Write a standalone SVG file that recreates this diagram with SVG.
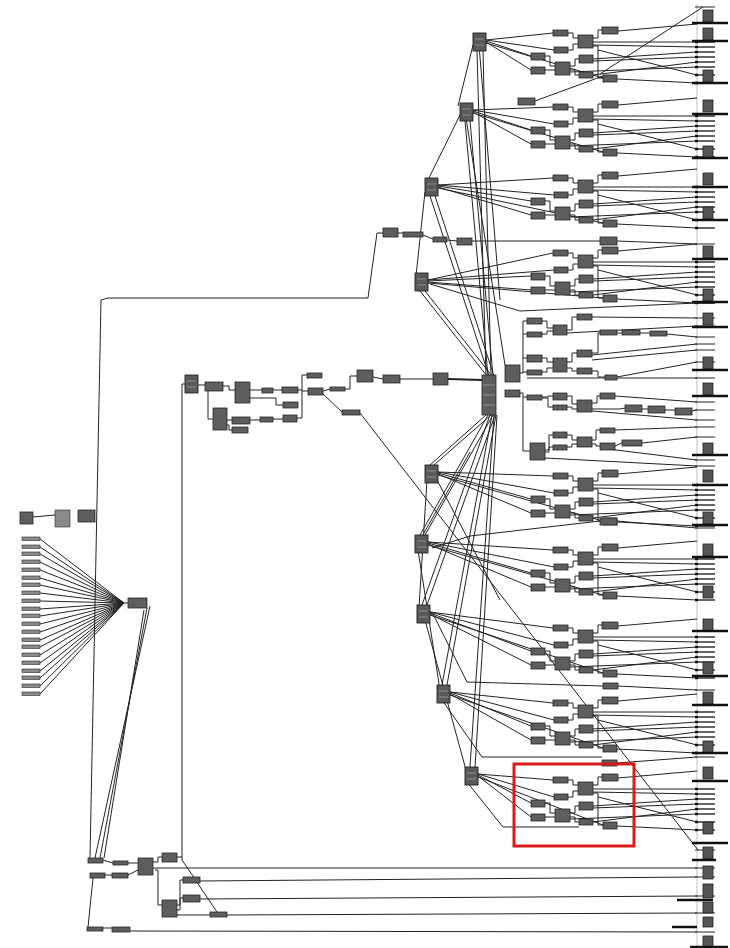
<svg xmlns="http://www.w3.org/2000/svg" width="730" height="948" viewBox="0 0 730 948">
<style>
.b{fill:#5e5e5e;stroke:#262626;stroke-width:0.8}
.r{fill:#5a5a5a;stroke:#222;stroke-width:0.9}
.in{fill:#8a8a8a;stroke:#2a2a2a;stroke-width:0.6}
.w path,.w line,path.w{fill:none;stroke:#222;stroke-width:1}
.dot{fill:none;stroke:#111;stroke-width:2.4}
.tk{fill:none;stroke:#333;stroke-width:1.4}
.st{fill:#555;stroke:#222;stroke-width:0.8}
.bar{fill:none;stroke:#111;stroke-width:2.4}
.lbl{fill:none;stroke:#9a9a9a;stroke-width:0.8}
</style>
<defs>
<g id="modN">
<rect class="b" x="553" y="0" width="15" height="6"/>
<rect class="b" x="554" y="17" width="14" height="6"/>
<rect class="b" x="531" y="23" width="14" height="7"/>
<rect class="b" x="531" y="37" width="14" height="7"/>
<rect class="b" x="578" y="5" width="15" height="13"/>
<rect class="b" x="555" y="32" width="15" height="13"/>
<rect class="b" x="579" y="25" width="14" height="8"/>
<rect class="b" x="579" y="42" width="14" height="6"/>
<rect class="b" x="602" y="-3" width="16" height="7"/>
<rect class="b" x="603" y="45" width="14" height="7"/>
</g>
<g id="modW">
<path class="w" d="M568,3H573V8H578M568,20H573V14H578M545,26H550V36H555M545,40H555M570,36H575V29H579M570,40H575V45H579M593,8H598V0H602M593,16H598V48H603"/>
<path class="w" d="M618,1L697,-6M593,12L697,12M593,15L697,17M593,29L697,22M593,31L697,27M593,45L697,32M570,42L697,37M617,49L697,53M598,20L697,45"/>
<path class="dot" d="M695,12h3M695,17h3M695,22h3M695,27h3M695,32h3M695,37h3M695,45h3M695,53h3"/>
<path class="tk" d="M698,12h17M698,17h17M698,22h17M698,27h17M698,32h17M698,37h17M698,45h17M698,53h17"/>
</g>
<g id="rootN">
<rect class="r" x="0" y="0" width="13" height="18"/>
<path class="lbl" d="M2,6H11M2,12H11"/>
</g>
</defs>
<rect x="0" y="0" width="730" height="948" fill="#ffffff"/>

<g id="connectors" class="w">
<path d="M697,4V946" style="stroke:#999;stroke-width:0.6"/>
<use href="#modW" y="30"/>
<use href="#modW" y="104"/>
<use href="#modW" y="175"/>
<use href="#modW" y="250"/>
<use href="#modW" y="473"/>
<use href="#modW" y="547"/>
<use href="#modW" y="625"/>
<use href="#modW" y="700"/>
<use href="#modW" y="777"/>
<!-- root fan lines -->
<path d="M486,40L553,33M486,40L554,50M486,41L531,56M486,42L531,70M486,43L603,78"/>
<path d="M473,110L553,107M473,110L554,124M473,111L531,130M473,112L531,144M473,113L603,152"/>
<path d="M438,185L553,178M438,185L554,195M438,186L531,201M438,187L531,215M438,188L603,223"/>
<path d="M428,280L553,253M428,280L554,270M428,281L531,276M428,282L531,290M428,283L603,298"/>
<path d="M438,472L553,476M438,472L554,493M438,473L531,499M438,474L531,513M438,475L603,521"/>
<path d="M428,542L553,550M428,542L554,567M428,543L531,573M428,544L531,587M428,545L603,595"/>
<path d="M430,612L553,628M430,612L554,645M430,613L531,651M430,614L531,665M430,615L603,673"/>
<path d="M450,692L553,703M450,692L554,720M450,693L531,726M450,694L531,740M450,695L603,748"/>
<path d="M478,774L553,780M478,774L554,797M478,775L531,803M478,776L531,817M478,777L603,825"/>
<!-- roots to hub -->
<path d="M477,51L486,376M483,51L491,376M465,121L488,376M470,121L493,376M430,196L489,376M435,196L494,376M420,291L487,376M425,291L492,376M479,45L500,300M466,118L505,365"/>
<path d="M486,415L430,465M491,415L434,465M488,415L420,535M493,415L425,535M490,415L422,605M495,415L427,605M492,415L442,685M496,415L447,685M494,415L470,767M497,415L475,767"/>
<!-- cross links between roots -->
<path d="M473,45L458,106M460,115L428,180M425,192L416,276M427,480L419,607M418,550L440,690M425,620L466,770M437,480L500,600M420,540L470,452M442,700L482,757H602M432,612L467,682L603,686M432,548L470,536L600,521M467,782L503,827H579"/>
<path d="M535,101L603,76M600,74L703,7M430,284L520,311L697,303M617,521L697,528M618,686L697,690M617,763L697,757M617,241L697,244"/>
<!-- hub sub-trees -->
<path d="M520,373H523M523,321V373M523,321H527M523,334H527M523,358H527M523,372H527M542,321H547V328H553M542,334H547V331H553M542,358H547V362H553M542,372H547V368H553M567,330H572V317H577M567,362H572V353H577M567,368H572V371H577M592,353H598V333H600M617,333H622M640,333H650M592,371H598V377H605M527,378H610"/>
<path d="M520,393H523V397H527M523,397V451H530M542,397H548V396H553M542,398H548V407H553M567,396H572V404H577M567,407H572V409H577M592,403H597V396H600M592,409H620L625,408M642,409H648M665,410H675M545,450H549V435H553M545,452H549V447H553M567,435H572V440H577M567,447H572V444H577M592,440H596V430H600M592,444H596V446H600M615,446L622,443M545,458L697,466"/>
<path d="M592,317L697,318M567,333L697,326M667,334L697,337M592,355L697,344M592,360L697,350M617,377L697,362M610,378L697,378M615,396L697,402M692,411L697,410M592,411L697,420M615,430L697,427M642,443L697,437M600,448L697,460"/>
<path class="dot" d="M695,318h3M695,326h3M695,337h3M695,344h3M695,350h3M695,362h3M695,378h3M695,402h3M695,410h3M695,420h3M695,427h3M695,437h3M695,460h3M695,466h3M695,528h3M695,690h3M695,757h3M695,244h3M695,303h3M695,868h3M695,877h3M695,896h3M695,913h3M695,932h3M695,850h3M695,7h3"/>
<path class="tk" d="M698,318h17M698,326h17M698,337h17M698,344h17M698,350h17M698,362h17M698,378h17M698,402h17M698,410h17M698,420h17M698,427h17M698,437h17M698,460h17M698,466h17M698,528h17M698,690h17M698,757h17M698,244h17M698,303h17M698,850h17M698,7h17"/>
<!-- chain from left -->
<path d="M198,385H205M223,386H229V390H235M250,390H262M273,390H282M250,398H276V405H283M205,386H208V419H213M227,420H232M227,425H229V430H232M250,420H260M273,419H283M297,418H302V390M298,390H302V375H307M302,391H308M323,391L330,389M345,389H350V376H357M373,377L383,379M400,379L433,379M323,394L342,412"/>
<path d="M448,379L482,380" style="stroke-width:2"/>
<path d="M360,413L698,850"/>
<path d="M185,384H182V860L217,912"/>
<!-- top route -->
<path d="M90,858L101,300L108,298H368L377,233H383M398,233H403M423,235L433,239M447,240L457,241M472,241L600,241"/>
<!-- left fan -->
<path d="M40,539L124,603M40,547L124,603M40,554L124,603M40,562L124,603M40,570L124,603M40,578L124,603M40,585L124,603M40,593L124,603M40,601L124,603M40,609L124,603M40,616L124,603M40,624L124,603M40,632L124,603M40,640L124,603M40,647L124,603M40,655L124,603M40,663L124,603M40,671L124,603M40,678L124,603M40,686L124,603M40,694L124,603M124,603H128"/>
<path d="M150,606L95,858M147,608L100,858M144,610L104,858M33,517L55,515"/>
<!-- bottom cluster -->
<path d="M103,860L113,863M105,875H112M128,863H138M128,875L138,870M153,862H158V857H162M155,870H158V905H162M177,905H180V880H183M177,910H180V898H183M177,915H210M153,868H697M200,881L697,877M200,899L697,896M227,915L697,913M103,928H112M130,931L697,932M93,878L88,927M177,857H182"/>
<path class="tk" d="M698,868h17M698,877h17M698,896h17M698,913h17M698,932h17"/>
</g>

<g id="right-column">
<g class="st">
<rect x="703" y="10" width="10" height="12"/><rect x="703" y="28" width="10" height="12"/>
<rect x="703" y="70" width="10" height="12"/><rect x="703" y="100" width="10" height="12"/>
<rect x="703" y="146" width="10" height="12"/><rect x="703" y="173" width="10" height="12"/>
<rect x="703" y="207" width="10" height="12"/><rect x="703" y="246" width="10" height="12"/>
<rect x="703" y="289" width="10" height="12"/><rect x="703" y="313" width="10" height="12"/>
<rect x="703" y="357" width="10" height="12"/><rect x="703" y="383" width="10" height="12"/>
<rect x="703" y="443" width="10" height="12"/><rect x="703" y="470" width="10" height="12"/>
<rect x="703" y="512" width="10" height="12"/><rect x="703" y="544" width="10" height="12"/>
<rect x="703" y="586" width="10" height="12"/><rect x="703" y="619" width="10" height="12"/>
<rect x="703" y="662" width="10" height="12"/><rect x="703" y="692" width="10" height="12"/>
<rect x="703" y="741" width="10" height="12"/><rect x="703" y="767" width="10" height="12"/>
<rect x="703" y="822" width="10" height="12"/><rect x="703" y="847" width="10" height="12"/>
<rect x="703" y="866" width="10" height="13"/><rect x="703" y="884" width="10" height="14"/>
<rect x="703" y="902" width="10" height="11"/><rect x="703" y="917" width="10" height="10"/>
<rect x="703" y="936" width="10" height="12"/>
</g>
<path class="bar" d="M692,23H728M692,41H728M692,83H728M692,114H728M692,158H728M692,187H728M692,220H728M692,259H728M692,302H728M692,327H728M692,370H728M692,396H728M692,455H728M692,485H728M692,525H728M692,557H728M692,631H728M692,676H728M692,705H728M692,753H728M692,781H728M692,843H728M692,860H716M677,900H713M672,927H697M690,947H728"/>
</g>

<g id="m1"><use href="#modN" y="30"/><use href="#rootN" x="473" y="33"/></g>
<g id="m2"><use href="#modN" y="104"/><use href="#rootN" x="460" y="103"/><rect class="b" x="518" y="98" width="17" height="7"/></g>
<g id="m3"><use href="#modN" y="175"/><use href="#rootN" x="425" y="178"/><rect class="b" x="600" y="237" width="17" height="8"/></g>
<g id="m4"><use href="#modN" y="250"/><use href="#rootN" x="415" y="273"/></g>
<g id="m5"><use href="#modN" y="473"/><use href="#rootN" x="425" y="465"/><rect class="b" x="600" y="518" width="17" height="7"/></g>
<g id="m6"><use href="#modN" y="547"/><use href="#rootN" x="415" y="535"/></g>
<g id="m7"><use href="#modN" y="625"/><use href="#rootN" x="417" y="605"/><rect class="b" x="603" y="683" width="15" height="6"/></g>
<g id="m8"><use href="#modN" y="700"/><use href="#rootN" x="437" y="685"/></g>
<g id="m9"><use href="#modN" y="777"/><use href="#rootN" x="465" y="767"/><rect class="b" x="602" y="760" width="15" height="6"/></g>

<g id="hub">
<rect class="b" x="482" y="375" width="14" height="40"/>
<path d="M483,385H495M483,395H495M483,405H495" stroke="#999" stroke-width="0.8"/>
<rect class="b" x="505" y="365" width="15" height="17"/><rect class="b" x="505" y="390" width="15" height="7"/>
</g>
<g id="hub-upper">
<rect class="b" x="527" y="318" width="15" height="6"/><rect class="b" x="527" y="332" width="15" height="5"/>
<rect class="b" x="527" y="355" width="15" height="7"/><rect class="b" x="527" y="370" width="15" height="5"/>
<rect class="b" x="553" y="325" width="14" height="10"/><rect class="b" x="553" y="358" width="14" height="14"/>
<rect class="b" x="577" y="314" width="15" height="6"/><rect class="b" x="577" y="350" width="15" height="7"/>
<rect class="b" x="577" y="368" width="15" height="6"/><rect class="b" x="600" y="330" width="17" height="5"/>
<rect class="b" x="622" y="330" width="18" height="5"/><rect class="b" x="650" y="331" width="17" height="5"/>
<rect class="b" x="605" y="375" width="12" height="5"/>
</g>
<g id="hub-lower">
<rect class="b" x="527" y="395" width="15" height="5"/><rect class="b" x="530" y="443" width="15" height="17"/>
<rect class="b" x="553" y="393" width="14" height="7"/><rect class="b" x="553" y="405" width="14" height="5"/>
<rect class="b" x="577" y="400" width="15" height="12"/><rect class="b" x="600" y="393" width="15" height="6"/>
<rect class="b" x="625" y="405" width="17" height="7"/><rect class="b" x="648" y="406" width="17" height="7"/>
<rect class="b" x="675" y="408" width="17" height="7"/><rect class="b" x="553" y="432" width="14" height="6"/>
<rect class="b" x="553" y="445" width="14" height="5"/><rect class="b" x="577" y="437" width="15" height="10"/>
<rect class="b" x="600" y="428" width="15" height="5"/><rect class="b" x="600" y="443" width="15" height="7"/>
<rect class="b" x="622" y="440" width="20" height="6"/>
</g>
<g id="chain">
<use href="#rootN" x="185" y="375"/><rect class="b" x="205" y="382" width="18" height="9"/>
<rect class="b" x="235" y="382" width="15" height="21"/><rect class="b" x="262" y="388" width="11" height="5"/>
<rect class="b" x="282" y="387" width="16" height="6"/><rect class="b" x="283" y="402" width="15" height="6"/>
<rect class="b" x="213" y="408" width="14" height="22"/><rect class="b" x="232" y="417" width="18" height="7"/>
<rect class="b" x="232" y="427" width="16" height="6"/><rect class="b" x="260" y="417" width="13" height="5"/>
<rect class="b" x="283" y="415" width="14" height="7"/><rect class="b" x="307" y="373" width="15" height="5"/>
<rect class="b" x="308" y="388" width="15" height="7"/><rect class="b" x="330" y="387" width="15" height="4"/>
<rect class="b" x="357" y="370" width="16" height="12"/><rect class="b" x="383" y="375" width="17" height="8"/>
<rect class="b" x="433" y="373" width="15" height="12"/><rect class="b" x="342" y="410" width="18" height="5"/>
</g>
<g id="top-chain">
<rect class="b" x="383" y="228" width="15" height="9"/><rect class="b" x="403" y="232" width="20" height="5"/>
<rect class="b" x="433" y="237" width="14" height="5"/><rect class="b" x="457" y="238" width="15" height="7"/>
</g>
<g id="left-inputs">
<rect class="b" x="20" y="512" width="13" height="12"/>
<rect class="in" x="55" y="510" width="15" height="17"/>
<rect class="b" x="78" y="510" width="17" height="12"/>
<g class="in">
<rect x="22" y="537" width="18" height="3.5"/><rect x="22" y="545" width="18" height="3.5"/>
<rect x="22" y="552" width="18" height="3.5"/><rect x="22" y="560" width="18" height="3.5"/>
<rect x="22" y="568" width="18" height="3.5"/><rect x="22" y="576" width="18" height="3.5"/>
<rect x="22" y="583" width="18" height="3.5"/><rect x="22" y="591" width="18" height="3.5"/>
<rect x="22" y="599" width="18" height="3.5"/><rect x="22" y="607" width="18" height="3.5"/>
<rect x="22" y="614" width="18" height="3.5"/><rect x="22" y="622" width="18" height="3.5"/>
<rect x="22" y="630" width="18" height="3.5"/><rect x="22" y="638" width="18" height="3.5"/>
<rect x="22" y="645" width="18" height="3.5"/><rect x="22" y="653" width="18" height="3.5"/>
<rect x="22" y="661" width="18" height="3.5"/><rect x="22" y="669" width="18" height="3.5"/>
<rect x="22" y="676" width="18" height="3.5"/><rect x="22" y="684" width="18" height="3.5"/>
<rect x="22" y="692" width="18" height="3.5"/>
</g>
<rect class="b" x="128" y="598" width="19" height="10"/>
</g>
<g id="bottom-cluster">
<rect class="b" x="88" y="858" width="15" height="5"/><rect class="b" x="90" y="873" width="15" height="5"/>
<rect class="b" x="113" y="861" width="15" height="4"/><rect class="b" x="112" y="873" width="16" height="5"/>
<rect class="b" x="138" y="858" width="15" height="17"/><rect class="b" x="162" y="853" width="15" height="9"/>
<rect class="b" x="183" y="877" width="17" height="6"/><rect class="b" x="183" y="895" width="17" height="7"/>
<rect class="b" x="162" y="900" width="15" height="17"/><rect class="b" x="210" y="912" width="17" height="5"/>
<rect class="b" x="87" y="927" width="16" height="4"/><rect class="b" x="112" y="927" width="18" height="5"/>
</g>
<rect id="highlight" x="514" y="764" width="120" height="82" fill="none" stroke="#d81b1b" stroke-width="3"/>
</svg>
